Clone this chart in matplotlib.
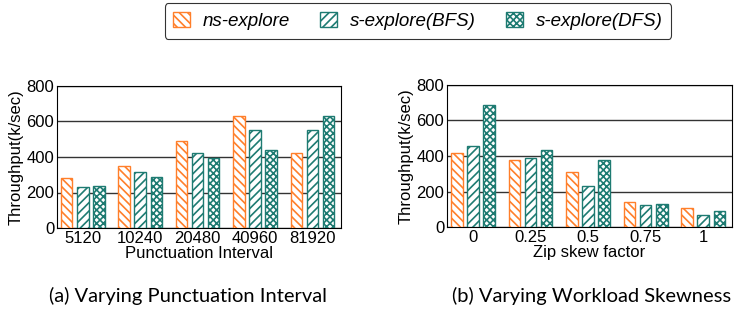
import numpy as np
import matplotlib.pyplot as plt
from matplotlib.patches import Patch

plt.rcParams['font.family'] = ['Liberation Sans', 'DejaVu Sans']
plt.rcParams['hatch.linewidth'] = 1.2

series = ['ns-explore', 's-explore(BFS)', 's-explore(DFS)']

intervals = ['5120', '10240', '20480', '40960', '81920']
interval_ns = [281, 352, 489, 633, 423]
interval_bfs = [230, 318, 420, 551, 551]
interval_dfs = [238, 289, 392, 440, 633]

skews = ['0', '0.25', '0.5', '0.75', '1']
skew_ns = [418, 376, 309, 143, 105]
skew_bfs = [455, 386, 230, 122, 66]
skew_dfs = [685, 433, 380, 130, 88]

orange = '#ff7f2a'
teal = '#1e7b72'
styles = [(orange, '\\\\\\\\'), (teal, '////'), (teal, 'xxxxx')]

fig = plt.figure(figsize=(7.38, 3.15), dpi=100)
ax1 = fig.add_axes([57 / 738, 1 - 228 / 315, 284 / 738, 142 / 315])
ax2 = fig.add_axes([447 / 738, 1 - 227 / 315, 285 / 738, 142 / 315])


def draw(ax, cats, vals, xlabel):
    x = np.arange(len(cats))
    for i, (v, (c, h)) in enumerate(zip(vals, styles)):
        ax.bar(x + (i - 1) * 0.28, v, width=0.2, facecolor='white',
               edgecolor=c, hatch=h, linewidth=1.0, zorder=3)
    ax.set_xticks(x)
    ax.set_xticklabels(cats)
    ax.set_xlim(-0.45, 4.5)
    ax.set_ylim(0, 800)
    ax.set_yticks([0, 200, 400, 600, 800])
    ax.grid(axis='y', color='#333333', linewidth=1.0, zorder=0)
    ax.tick_params(length=0, labelsize=12, pad=2)
    ax.set_ylabel('Throughput(k/sec)', fontsize=12, labelpad=2)
    ax.set_xlabel(xlabel, fontsize=12, labelpad=0)
    for s in ax.spines.values():
        s.set_linewidth(0.8)


draw(ax1, intervals, [interval_ns, interval_bfs, interval_dfs], 'Punctuation Interval')
draw(ax2, skews, [skew_ns, skew_bfs, skew_dfs], 'Zip skew factor')

handles = [Patch(facecolor='white', edgecolor=c, hatch=h, label=s)
           for s, (c, h) in zip(series, styles)]
leg = fig.legend(handles=handles, loc='center', bbox_to_anchor=(418 / 738, 1 - 21 / 315),
                 ncol=3, frameon=True, fancybox=True, edgecolor='black',
                 prop={'style': 'italic', 'size': 13.5}, handlelength=0.9,
                 handleheight=0.9, columnspacing=1.6, handletextpad=0.7,
                 borderpad=0.45)
leg.get_frame().set_linewidth(0.8)

fig.text(188 / 738, 1 - 296 / 315, '(a) Varying Punctuation Interval',
         ha='center', va='center', fontsize=14.5, family='Lato')
fig.text(592 / 738, 1 - 296 / 315, '(b) Varying Workload Skewness',
         ha='center', va='center', fontsize=14.5, family='Lato')

fig.savefig('out.png', dpi=100)
